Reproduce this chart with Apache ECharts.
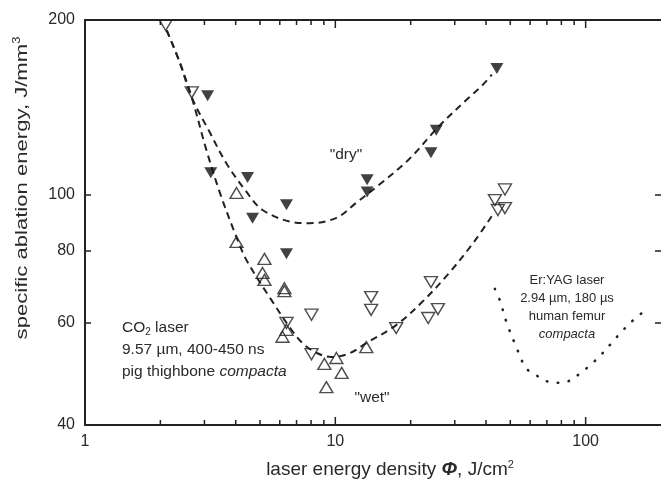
<!DOCTYPE html>
<html>
<head>
<meta charset="utf-8">
<script src="https://cdn.jsdelivr.net/npm/echarts@6/dist/echarts.min.js"></script>
<style>
  html, body { margin: 0; padding: 0; background: #fff; }
  #chart { width: 661px; height: 486px; }
</style>
</head>
<body>
<div id="chart"></div>
<script>
// ============ data ============
// [laser energy density J/cm2, specific ablation energy J/mm3]
const dryPoints = [
  [3.09, 148], [3.18, 109], [4.46, 107], [4.67, 91], [6.38, 96], [6.38, 79],
  [13.4, 106], [13.4, 101], [24.1, 118], [25.3, 129], [44.2, 165]
]
const wetDownPoints = [
  [2.10, 196], [2.67, 150], [6.38, 60], [8.03, 62], [8.03, 53], [13.9, 66.5],
  [13.9, 63.2], [17.5, 58.8], [24.1, 70.6], [23.5, 61.2], [25.7, 63.4],
  [43.4, 97.8], [47.6, 102], [44.6, 94], [47.6, 94.7]
]
const wetUpPoints = [
  [4.03, 100.6], [4.03, 82.8], [5.21, 77.4], [5.12, 73.2], [5.21, 71.2],
  [6.26, 68.9], [6.26, 68.1], [6.38, 58.4], [6.15, 56.8], [9.04, 51],
  [10.1, 52.2], [10.6, 49.2], [9.21, 46.5], [13.3, 54.5]
]
const dryFit = [
  [2.12, 192], [2.39, 169], [2.67, 147], [3.15, 128], [3.68, 113], [4.42, 101],
  [5.12, 94], [6.74, 89.6], [7.87, 89.2], [10.1, 91.1], [12.1, 96.7], [15.0, 104],
  [19.7, 115], [25.9, 131], [34.2, 147], [38.5, 154], [42.2, 161]
]
const wetFit = [
  [2.12, 192], [2.39, 169], [2.67, 147], [3.06, 119], [3.45, 101], [3.96, 86],
  [4.42, 77], [5.56, 65.7], [6.68, 58.4], [7.52, 55], [8.48, 53.2], [9.64, 52.4],
  [11.4, 53.2], [13.3, 55.4], [17.5, 59.5], [22.2, 65.2], [28.5, 73.2],
  [35.8, 82.8], [43, 92.9]
]
const erYagFit = [
  [43.4, 68.7], [45.4, 65.7], [48.4, 60], [52.6, 54.8], [57.7, 50.2], [63.2, 48.8],
  [69.9, 47.6], [77.3, 47.3], [86.3, 47.7], [95.5, 49.2], [105.7, 51], [115.8, 53],
  [126.9, 55.4], [139, 57.9], [153.8, 60.5], [170, 62.7]
]

// ============ axes ============
const X_MIN = 1
const X_MAX = 200
const Y_MIN = 40
const Y_MAX = 200
const xLabelValues = [1, 10, 100]
const xMinorTicks = [2, 3, 4, 5, 6, 7, 8, 9, 20, 30, 40, 50, 60, 70, 80, 90]
const xMajorTicks = [10, 100]
const yLabelValues = [40, 60, 80, 100, 200]
const yTickValues = [60, 80, 100]

// ============ style ============
const FONT = '"Liberation Sans", Arial, sans-serif'
const INK = '#222'
const TEXT = '#2a2a2a'

function logAxis(min, max, position, opts) {
  return Object.assign({
    type: 'log',
    logBase: 10,
    min: min,
    max: max,
    position: position,
    axisLine: { show: true, onZero: false, lineStyle: { color: INK, width: 2 } },
    axisTick: { show: false },
    axisLabel: { show: false },
    splitLine: { show: false }
  }, opts)
}

function ticks(values, len) {
  return { show: true, inside: true, length: len, customValues: values, lineStyle: { color: INK, width: 1.5 } }
}

const chart = echarts.init(document.getElementById('chart'), null, { renderer: 'canvas' })

const openStyle = { color: 'rgba(255,255,255,0)', borderColor: INK, borderWidth: 1.4 }

const textGraphics = [
  {
    type: 'text', x: 22, y: 188, rotation: Math.PI / 2, scaleX: 1.3,
    style: {
      text: '{a|specific ablation energy, J/mm}{s|3}',
      align: 'center', verticalAlign: 'middle', fill: TEXT,
      rich: {
        a: { fontSize: 17, fontFamily: FONT, lineHeight: 19, fill: TEXT },
        s: { fontSize: 10, fontFamily: FONT, lineHeight: 10, verticalAlign: 'top', fill: TEXT }
      }
    }
  },
  {
    type: 'text', x: 390, y: 470,
    style: {
      text: '{a|laser energy density }{i|\u03A6}{a|, J/cm}{s|2}',
      align: 'center', verticalAlign: 'middle', fill: TEXT,
      rich: {
        a: { fontSize: 19, fontFamily: FONT, lineHeight: 21, fill: TEXT },
        i: { fontSize: 19, fontFamily: FONT, fontStyle: 'italic', fontWeight: 'bold', lineHeight: 21, fill: TEXT },
        s: { fontSize: 11, fontFamily: FONT, lineHeight: 11, verticalAlign: 'top', fill: TEXT }
      }
    }
  },
  {
    type: 'text', x: 346, y: 155,
    style: { text: '"dry"', font: '15.5px ' + FONT, fill: TEXT, align: 'center', verticalAlign: 'middle' }
  },
  {
    type: 'text', x: 372, y: 398,
    style: { text: '"wet"', font: '15.5px ' + FONT, fill: TEXT, align: 'center', verticalAlign: 'middle' }
  },
  {
    type: 'text', x: 122, y: 350,
    style: {
      text: '{a|CO}{b|2}{a| laser}\n{a|9.57 \u00B5m, 400-450 ns}\n{a|pig thighbone }{i|compacta}',
      align: 'left', verticalAlign: 'middle', fill: TEXT,
      rich: {
        a: { fontSize: 15.5, fontFamily: FONT, lineHeight: 22, fill: TEXT },
        b: { fontSize: 10, fontFamily: FONT, lineHeight: 22, verticalAlign: 'bottom', fill: TEXT, padding: [0, 0, 2, 0] },
        i: { fontSize: 15.5, fontFamily: FONT, fontStyle: 'italic', lineHeight: 22, fill: TEXT }
      }
    }
  },
  {
    type: 'text', x: 567, y: 307,
    style: {
      text: '{a|Er:YAG laser}\n{a|2.94 \u00B5m, 180 \u00B5s}\n{a|human femur}\n{i|compacta}',
      align: 'center', verticalAlign: 'middle', fill: TEXT,
      rich: {
        a: { fontSize: 13, fontFamily: FONT, lineHeight: 18, fill: TEXT, align: 'center' },
        i: { fontSize: 13, fontFamily: FONT, fontStyle: 'italic', lineHeight: 18, fill: TEXT, align: 'center' }
      }
    }
  }
]

chart.setOption({
  animation: false,
  backgroundColor: '#fff',
  grid: { left: 85, top: 20, width: 578, height: 405 },
  xAxis: [
    logAxis(X_MIN, X_MAX, 'bottom', {
      axisLabel: { show: true, customValues: xLabelValues, margin: 9, fontSize: 16, color: TEXT, fontFamily: FONT }
    }),
    logAxis(X_MIN, X_MAX, 'top', {})
  ],
  yAxis: [
    logAxis(Y_MIN, Y_MAX, 'left', {
      axisTick: ticks(yTickValues, 6),
      axisLabel: { show: true, customValues: yLabelValues, margin: 10, fontSize: 16, color: TEXT, fontFamily: FONT }
    }),
    logAxis(Y_MIN, Y_MAX, 'right', { axisLine: { show: false }, axisTick: ticks(yTickValues, 6) })
  ],
  series: [
    {
      name: 'dry fit', type: 'line', data: dryFit, smooth: 0.35, showSymbol: false,
      lineStyle: { color: INK, width: 2, type: [7, 5] }, z: 2
    },
    {
      name: 'wet fit', type: 'line', data: wetFit, smooth: 0.35, showSymbol: false,
      lineStyle: { color: INK, width: 2, type: [7, 5] }, z: 2
    },
    {
      name: 'Er:YAG', type: 'line', data: erYagFit, smooth: 0.35, showSymbol: false,
      lineStyle: { color: INK, width: 2.6, type: [0.5, 10.5], cap: 'round' }, z: 2
    },
    {
      name: 'dry', type: 'scatter', data: dryPoints, symbol: 'triangle', symbolRotate: 180,
      symbolSize: [13, 11], itemStyle: { color: '#111' }, z: 3
    },
    {
      name: 'wet down', type: 'scatter', data: wetDownPoints, symbol: 'triangle', symbolRotate: 180,
      symbolSize: [13, 11], itemStyle: openStyle, z: 3
    },
    {
      name: 'wet up', type: 'scatter', data: wetUpPoints, symbol: 'triangle',
      symbolSize: [13, 11], itemStyle: openStyle, z: 3
    }
  ]
})

// inward x ticks on the bottom and top frame, placed through the chart's own x scale
const tickGraphics = []
function addXTicks(values, len) {
  values.forEach(v => {
    const bottom = chart.convertToPixel({ gridIndex: 0 }, [v, Y_MIN])
    const top = chart.convertToPixel({ gridIndex: 0 }, [v, Y_MAX])
    tickGraphics.push(
      { type: 'line', z: 100, shape: { x1: bottom[0], y1: bottom[1], x2: bottom[0], y2: bottom[1] - len }, style: { stroke: INK, lineWidth: 1.5 } },
      { type: 'line', z: 100, shape: { x1: top[0], y1: top[1], x2: top[0], y2: top[1] + len }, style: { stroke: INK, lineWidth: 1.5 } }
    )
  })
}
addXTicks(xMinorTicks, 5)
addXTicks(xMajorTicks, 8)

chart.setOption({ graphic: textGraphics.concat(tickGraphics) })
</script>
</body>
</html>
